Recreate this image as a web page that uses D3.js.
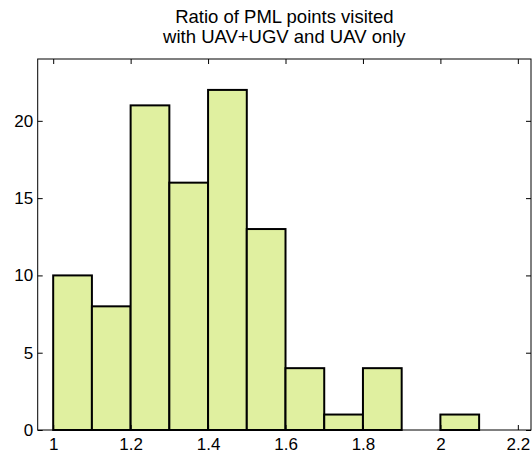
<!DOCTYPE html>
<html>
<head>
<meta charset="utf-8">
<script src="https://cdn.jsdelivr.net/npm/d3@7"></script>
<style>
  body { margin: 0; background: #fff; }
  svg { display: block; font-family: "Liberation Sans", Arial, sans-serif; }
</style>
</head>
<body>
<div id="chart"></div>
<script>
// histogram data: bin edges and counts
var binStarts = [1.0, 1.1, 1.2, 1.3, 1.4, 1.5, 1.6, 1.7, 1.8, 1.9, 2.0];
var binWidth = 0.1;
var counts = [10, 8, 21, 16, 22, 13, 4, 1, 4, 0, 1];

var xTicks = [1, 1.2, 1.4, 1.6, 1.8, 2, 2.2];
var yTicks = [0, 5, 10, 15, 20];
var titleLines = ["Ratio of PML points visited", "with UAV+UGV and UAV only"];

var width = 532,
    height = 452;

// plot box edges (don't call these top/left, window.top is taken)
var boxLeft = 37.7, boxRight = 531, boxTop = 59, boxBottom = 430;

var svg = d3.select("#chart").append("svg")
    .attr("width", width)
    .attr("height", height);

var x = d3.scaleLinear().domain([0.96, 2.234]).range([boxLeft, boxRight]);
var y = d3.scaleLinear().domain([0, 24]).range([boxBottom, boxTop]);

// bars
svg.append("g")
    .selectAll("rect")
    .data(counts)
    .enter()
    .append("rect")
        .attr("x", function(d, i) { return x(binStarts[i]); })
        .attr("y", function(d) { return y(d); })
        .attr("width", function(d, i) { return x(binStarts[i] + binWidth) - x(binStarts[i]); })
        .attr("height", function(d) { return y(0) - y(d); })
        .attr("fill", "#e0f0a0")
        .attr("stroke", "#000")
        .attr("stroke-width", 2);

// axes, ticks point inward like matlab
var tickLen = 5;

var xAxisBottom = d3.axisBottom(x).tickValues(xTicks).tickSizeInner(-tickLen).tickSizeOuter(0)
    .tickPadding(8).tickFormat(d3.format("~g"));
var xAxisTop = d3.axisTop(x).tickValues(xTicks).tickSizeInner(-tickLen).tickSizeOuter(0)
    .tickFormat("");
var yAxisLeft = d3.axisLeft(y).tickValues(yTicks).tickSizeInner(-tickLen).tickSizeOuter(0)
    .tickPadding(4.5);
var yAxisRight = d3.axisRight(y).tickValues(yTicks).tickSizeInner(-tickLen).tickSizeOuter(0)
    .tickFormat("");

svg.append("g").attr("transform", "translate(0," + boxBottom + ")").call(xAxisBottom);
svg.append("g").attr("transform", "translate(0," + boxTop + ")").call(xAxisTop);
svg.append("g").attr("transform", "translate(" + boxLeft + ",0)").call(yAxisLeft);
svg.append("g").attr("transform", "translate(" + boxRight + ",0)").call(yAxisRight);

svg.selectAll(".domain").remove();
svg.selectAll(".tick line").attr("stroke", "#000");
svg.selectAll(".tick text")
    .attr("fill", "#000")
    .style("font-size", "17px")
    .style("font-family", "\"Liberation Sans\", Arial, sans-serif");

// box around plot area
svg.append("rect")
    .attr("x", boxLeft)
    .attr("y", boxTop)
    .attr("width", boxRight - boxLeft)
    .attr("height", boxBottom - boxTop)
    .attr("fill", "none")
    .attr("stroke", "#000")
    .attr("stroke-width", 1);

// title
svg.append("g")
    .selectAll("text")
    .data(titleLines)
    .enter()
    .append("text")
        .attr("x", (boxLeft + boxRight) / 2)
        .attr("y", function(d, i) { return 23 + i * 19.5; })
        .attr("text-anchor", "middle")
        .style("font-size", "18.5px")
        .text(function(d) { return d; });
</script>
</body>
</html>
